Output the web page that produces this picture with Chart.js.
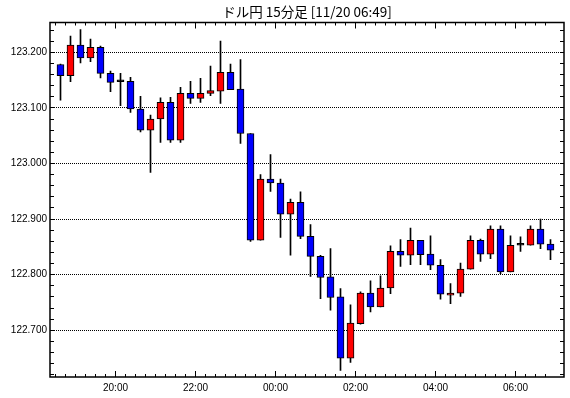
<!DOCTYPE html>
<html>
<head>
<meta charset="utf-8">
<script src="https://cdn.jsdelivr.net/npm/chart.js@4.4.0/dist/chart.umd.min.js"></script>
<style>
  html, body { margin: 0; padding: 0; background: #fff; }
  #chart-container { width: 570px; height: 398px; }
</style>
</head>
<body>
<div id="chart-container"><canvas id="myChart"></canvas></div>
<script>
const chartTitle = 'ドル円 15分足 [11/20 06:49]';

const times = [
  '18:30', '18:45', '19:00', '19:15', '19:30', '19:45', '20:00', '20:15', '20:30', '20:45',
  '21:00', '21:15', '21:30', '21:45', '22:00', '22:15', '22:30', '22:45', '23:00', '23:15',
  '23:30', '23:45', '00:00', '00:15', '00:30', '00:45', '01:00', '01:15', '01:30', '01:45',
  '02:00', '02:15', '02:30', '02:45', '03:00', '03:15', '03:30', '03:45', '04:00', '04:15',
  '04:30', '04:45', '05:00', '05:15', '05:30', '05:45', '06:00', '06:15', '06:30', '06:45'
];

const opens = [
  123.178, 123.158, 123.213, 123.190, 123.209, 123.162, 123.147, 123.148, 123.098, 123.060,
  123.080, 123.110, 123.042, 123.126, 123.117, 123.126, 123.130, 123.164, 123.134, 123.054,
  122.862, 122.972, 122.965, 122.909, 122.930, 122.869, 122.833, 122.796, 122.760, 122.650,
  122.712, 122.767, 122.742, 122.776, 122.842, 122.835, 122.862, 122.837, 122.817, 122.763,
  122.767, 122.810, 122.862, 122.837, 122.882, 122.805, 122.853, 122.853, 122.882, 122.855
];
const highs = [
  123.179, 123.229, 123.241, 123.224, 123.211, 123.166, 123.162, 123.155, 123.121, 123.087,
  123.118, 123.119, 123.137, 123.148, 123.153, 123.175, 123.220, 123.179, 123.187, 123.054,
  122.980, 123.016, 122.972, 122.936, 122.949, 122.890, 122.835, 122.847, 122.775, 122.746,
  122.769, 122.789, 122.798, 122.852, 122.863, 122.884, 122.862, 122.870, 122.827, 122.784,
  122.821, 122.870, 122.864, 122.888, 122.888, 122.870, 122.868, 122.888, 122.900, 122.863
];
const lows = [
  123.114, 123.147, 123.181, 123.183, 123.154, 123.129, 123.104, 123.092, 123.057, 122.984,
  123.038, 123.038, 123.038, 123.108, 123.110, 123.122, 123.108, 123.133, 123.036, 122.860,
  122.862, 122.950, 122.867, 122.835, 122.865, 122.797, 122.757, 122.736, 122.628, 122.642,
  122.711, 122.733, 122.742, 122.766, 122.815, 122.818, 122.818, 122.809, 122.756, 122.748,
  122.761, 122.810, 122.824, 122.829, 122.802, 122.805, 122.842, 122.853, 122.847, 122.827
];
const closes = [
  123.158, 123.213, 123.190, 123.209, 123.162, 123.146, 123.147, 123.098, 123.060, 123.080,
  123.110, 123.042, 123.126, 123.117, 123.126, 123.131, 123.164, 123.133, 123.054, 122.862,
  122.972, 122.965, 122.909, 122.930, 122.869, 122.833, 122.795, 122.759, 122.650, 122.713,
  122.767, 122.742, 122.776, 122.842, 122.835, 122.862, 122.836, 122.817, 122.765, 122.767,
  122.810, 122.862, 122.837, 122.882, 122.805, 122.853, 122.853, 122.882, 122.855, 122.844
];

const yTicks = [122.7, 122.8, 122.9, 123.0, 123.1, 123.2];
const xTickLabels = ['20:00', '22:00', '00:00', '02:00', '04:00', '06:00'];

const yMin = 122.616, yMax = 123.2536, yMinorStep = 0.02;

const bodyColors = closes.map((c, i) => c > opens[i] ? '#ff0000' : (c < opens[i] ? '#0000ff' : '#000000'));

// frame, inward tick marks and title
const framePlugin = {
  id: 'frame',
  afterDatasetsDraw(chart) {
    const { ctx, chartArea: a, scales: { x, y } } = chart;
    ctx.save();
    ctx.strokeStyle = '#000';
    ctx.lineWidth = 1;
    ctx.beginPath();
    times.forEach((t, i) => {
      const px = Math.round(x.getPixelForValue(i) - 0.5) + 0.5;
      const len = xTickLabels.includes(t) ? 6 : 3;
      ctx.moveTo(px, a.bottom); ctx.lineTo(px, a.bottom - len);
      ctx.moveTo(px, a.top); ctx.lineTo(px, a.top + len);
    });
    for (let v = Math.ceil(yMin / yMinorStep) * yMinorStep; v <= yMax; v += yMinorStep) {
      const py = Math.round(y.getPixelForValue(v) - 0.5) + 0.5;
      ctx.moveTo(a.left, py); ctx.lineTo(a.left + 4, py);
      ctx.moveTo(a.right, py); ctx.lineTo(a.right - 4, py);
    }
    ctx.stroke();
    ctx.lineWidth = 1.5;
    ctx.strokeRect(a.left, a.top, a.right - a.left, a.bottom - a.top);

    ctx.fillStyle = '#000';
    ctx.font = '13.5px "Noto Sans CJK JP"';
    ctx.textAlign = 'center';
    ctx.textBaseline = 'middle';
    ctx.fillText(chartTitle, (a.left + a.right) / 2, 12);
    ctx.restore();
  }
};

const canvas = document.getElementById('myChart');

new Chart(canvas.getContext('2d'), {
  type: 'bar',
  data: {
    datasets: [
      {
        label: 'wick',
        data: times.map((t, i) => ({ x: i + 0.5, y: [lows[i], highs[i]] })),
        backgroundColor: '#000000',
        borderWidth: 0,
        barThickness: 1,
        grouped: false,
        order: 1,
      },
      {
        label: 'body',
        data: times.map((t, i) => ({ x: i + 0.5, y: [opens[i], closes[i]] })),
        backgroundColor: bodyColors,
        borderColor: '#000000',
        borderWidth: 1,
        borderSkipped: false,
        barThickness: 7,
        minBarLength: 2,
        grouped: false,
        order: 0,
      },
    ],
  },
  options: {
    responsive: true,
    maintainAspectRatio: false,
    animation: false,
    events: [],
    layout: { padding: { top: 22.5, right: 6, left: 0, bottom: 0 } },
    plugins: {
      legend: { display: false },
      tooltip: { enabled: false },
    },
    scales: {
      x: {
        type: 'linear',
        min: -0.55,
        max: 50.85,
        offset: false,
        grid: { display: false, drawTicks: false, offset: false },
        border: { display: false },
        afterBuildTicks: (s) => { s.ticks = xTickLabels.map(l => ({ value: times.indexOf(l) })); },
        afterFit: (s) => { s.height = 21; },
        ticks: {
          autoSkip: false,
          maxRotation: 0,
          padding: 5,
          color: '#000',
          font: { family: '"Liberation Sans"', size: 10 },
          callback: (v) => times[v],
        },
      },
      y: {
        min: yMin,
        max: yMax,
        grid: { color: '#000', lineWidth: 1, drawTicks: false },
        border: { display: false, dash: [1, 1] },
        afterBuildTicks: (s) => { s.ticks = yTicks.map(v => ({ value: v })); },
        afterFit: (s) => { s.width = 50; },
        ticks: {
          padding: 3,
          color: '#000',
          font: { family: '"Liberation Sans"', size: 10 },
          callback: (v) => Number(v).toFixed(3),
        },
      },
    },
  },
  plugins: [framePlugin],
});
</script>
</body>
</html>
